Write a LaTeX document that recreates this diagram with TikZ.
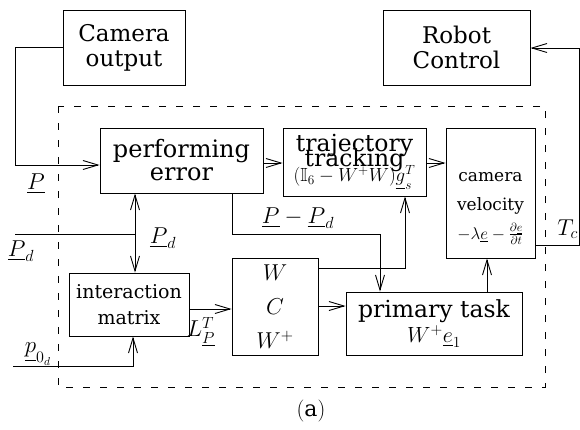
\documentclass[tikz,border=0pt]{standalone}
\usepackage{fix-cm}
\usepackage{amssymb}
\usepackage{fontspec}
\setmainfont{DejaVu Serif}
\usetikzlibrary{arrows.meta}

\begin{document}
\begin{tikzpicture}
    [x=1pt,y=-1pt,inner sep=0pt,line width=0.9pt,
      >={Straight Barb[length=15pt,width=9pt]},
      block/.style={rectangle,draw,align=center},
      lbl/.style={font=\fontsize{23}{25}\selectfont}
    ]
    \useasboundingbox (0,0) rectangle (580,429);

    \node [block,minimum width=122pt,minimum height=75pt,
      font=\fontsize{23}{25}\selectfont] (camOut) at (124,47.5) {Camera\\output};
    \node [block,minimum width=147pt,minimum height=75pt,
      font=\fontsize{23}{25}\selectfont] (robCtrl) at (456.5,47.5) {Robot\\Control};

    \draw [dash pattern=on 7pt off 10pt,line width=0.8pt] (58,106) rectangle (545,387);

    \node [block,minimum width=163pt,minimum height=65pt,
      font=\fontsize{24}{23}\selectfont] (perfErr) at (181.5,160.5) {performing\\error};
    \node [block,minimum width=143pt,minimum height=68pt,
      font=\fontsize{23.5}{23}\selectfont] (trajTrack) at (354.5,162)
      {trajectory\\[-9pt]tracking\\[-8pt]{\fontsize{19}{15}\selectfont$(\mathbb{I}_6-W^+W)\underline{g}_s^T$}};
    \node [block,minimum width=89pt,minimum height=130pt,
      font=\fontsize{17}{29}\selectfont] (camVel) at (490.5,193)
      {\rule{0pt}{40pt}camera\\velocity\\$-\lambda\underline{e}-\frac{\partial\underline{e}}{\partial t}$};
    \node [block,minimum width=120pt,minimum height=63pt,
      font=\fontsize{19}{26}\selectfont] (interMat) at (129,304.5) {interaction\\matrix};
    \node [block,minimum width=86pt,minimum height=97pt,
      font=\fontsize{23}{34}\selectfont] (wcMat) at (275,306.5) {$W$\\$C$\\$W^+$};
    \node [block,minimum width=176pt,minimum height=63pt,
      font=\fontsize{23.5}{25}\selectfont] (primTask) at (434,323.5)
      {primary task\\{\fontsize{22}{25}\selectfont$W^+\underline{e}_1$}};

    % signals
    \draw [->] (camOut.west) -| (15,165) -- (perfErr.west |- 15,165);
    \draw [->] (camVel.east |- 0,245) -| (579,48) -- (robCtrl.east |- 0,48);
    \draw [->] (perfErr.east |- 0,163) -- (trajTrack.west |- 0,163);
    \draw [->] (trajTrack.east |- 0,163) -- (camVel.west |- 0,163);
    \draw (15,234) -- (135,234);
    \draw [<->] (perfErr.south -| 135,0) -- (interMat.north -| 135,0);
    \draw [->] (13,366) -| (interMat.south -| 133,0);
    \draw [->] (interMat.east |- 0,309) -- (wcMat.west |- 0,309);
    \draw [->] (perfErr.south -| 232,0) |- (380,234) -- (primTask.north -| 380,0);
    \draw [->] (wcMat.east |- 0,268) -| (trajTrack.south -| 405,0);
    \draw [->] (wcMat.east |- 0,306) -- (primTask.west |- 0,306);
    \draw [->] (primTask.north -| 487,0) -- (camVel.south -| 487,0);

    \node [lbl] (pLbl) at (36,184) {$\underline{P}$};
    \node [lbl] (pdIn) at (21,251) {$\underline{P}_d$};
    \node [lbl] (pdLbl) at (163,238) {$\underline{P}_d$};
    \node [lbl] (errLbl) at (298,218) {$\underline{P}-\underline{P}_d$};
    \node [lbl] (lLbl) at (201,332) {$L_{\underline{P}}^T$};
    \node [lbl] (p0Lbl) at (38,354) {$\underline{p}_{0_d}$};
    \node [lbl,anchor=west] (tcLbl) at (557,229) {$T_c$};
    \node [font=\fontsize{22}{24}\selectfont] (capLbl) at (311,411) {$(\mathrm{a})$};
  \end{tikzpicture}
\end{document}
